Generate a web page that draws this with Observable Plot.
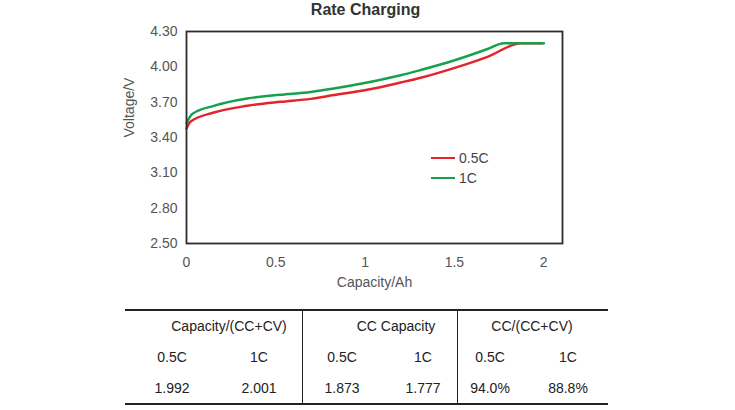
<!DOCTYPE html>
<html>
<head>
<meta charset="utf-8">
<script src="https://cdn.jsdelivr.net/npm/d3@7"></script>
<script src="https://cdn.jsdelivr.net/npm/@observablehq/plot@0.6"></script>
<style>
  html, body { margin: 0; padding: 0; background: #fff; }
  body { width: 735px; height: 410px; overflow: hidden; font-family: "Liberation Sans", Arial, sans-serif; }
  #title { height: 20px; line-height: 20px; text-align: center; font-weight: bold; font-size: 16px; color: #333; padding-right: 4px; }
  #chartwrap { position: relative; width: 735px; height: 280px; }
  #chartwrap svg { display: block; }
  .legend { position: absolute; font-size: 14px; color: #444; }
  .legend .row { position: absolute; white-space: nowrap; height: 16px; line-height: 16px; }
  .legend .sw { display: inline-block; width: 24px; height: 0; border-top: 2.5px solid; vertical-align: middle; margin-right: 4px; position: relative; top: -1px; }
  #table { position: relative; width: 735px; height: 110px; font-size: 14px; color: #222; }
  #table .hl { position: absolute; height: 0; border-top: 2px solid #222; }
  #table .vl { position: absolute; width: 0; border-left: 1.5px solid #222; }
  #table .cell { position: absolute; transform: translate(-50%, -50%); white-space: nowrap; }
</style>
</head>
<body>
<div id="title">Rate Charging</div>
<div id="chartwrap"></div>
<div id="table"></div>
<script>
// ---- Data ----
const seriesNames = ["0.5C", "1C"];
const seriesColors = ["#e3242b", "#17a14c"];

const capacityHalfC = [0, 0.022, 0.153, 0.340, 0.527, 0.695, 0.825, 1.012, 1.199, 1.311, 1.497, 1.685, 1.873, 1.992];
const voltageHalfC  = [3.477, 3.533, 3.612, 3.669, 3.703, 3.728, 3.760, 3.805, 3.867, 3.907, 3.989, 4.085, 4.20, 4.20];

const capacityOneC = [0, 0.032, 0.153, 0.340, 0.527, 0.695, 0.825, 1.012, 1.199, 1.311, 1.497, 1.685, 1.777, 2.001];
const voltageOneC  = [3.522, 3.599, 3.669, 3.731, 3.763, 3.787, 3.816, 3.867, 3.928, 3.973, 4.054, 4.151, 4.20, 4.20];

const xTicks = [0, 0.5, 1, 1.5, 2];
const yTicks = [2.5, 2.8, 3.1, 3.4, 3.7, 4.0, 4.3];

const tableGroups = ["Capacity/(CC+CV)", "CC Capacity", "CC/(CC+CV)"];
const tableRates = ["0.5C", "1C", "0.5C", "1C", "0.5C", "1C"];
const tableValues = ["1.992", "2.001", "1.873", "1.777", "94.0%", "88.8%"];

// ---- Build rows ----
const rows = [];
capacityHalfC.forEach((c, i) => rows.push({series: seriesNames[0], capacity: c, voltage: voltageHalfC[i]}));
capacityOneC.forEach((c, i) => rows.push({series: seriesNames[1], capacity: c, voltage: voltageOneC[i]}));

const font = '"Liberation Sans", Arial, sans-serif';

const chart = Plot.plot({
  width: 735,
  height: 280,
  marginLeft: 186,
  marginRight: 173,
  marginTop: 11,
  marginBottom: 57,
  style: { fontFamily: font, fontSize: "14px", color: "#555", background: "#fff" },
  x: { domain: [0, 2.105], ticks: xTicks, tickFormat: d => String(d), label: null },
  y: { domain: [2.5, 4.3], ticks: yTicks, tickFormat: d3.format(".2f"), label: null },
  color: { domain: seriesNames, range: seriesColors },
  marks: [
    Plot.axisX({ticks: xTicks, tickSize: 0, tickPadding: 14, tickFormat: d => String(d), label: null, fill: "#555"}),
    Plot.axisY({ticks: yTicks, tickSize: 0, tickPadding: 9, tickFormat: d3.format(".2f"), label: null, fill: "#555"}),
    Plot.line(rows, {x: "capacity", y: "voltage", z: "series", stroke: "series", strokeWidth: 2.5, curve: "monotone-x"}),
    Plot.frame({stroke: "#2b2b2b", strokeWidth: 1.8}),
    Plot.text(["Capacity/Ah"], {frameAnchor: "bottom", dy: 43, text: d => d, fill: "#555", fontSize: 14}),
    Plot.text(["Voltage/V"], {frameAnchor: "left", dx: -57, rotate: -90, text: d => d, fill: "#555", fontSize: 14})
  ]
});
document.getElementById("chartwrap").appendChild(chart);

// ---- Legend (overlay) ----
const legend = document.createElement("div");
legend.className = "legend";
legend.style.left = "431px";
legend.style.top = "130px";
seriesNames.forEach((name, i) => {
  const r = document.createElement("div");
  r.className = "row";
  r.style.top = (i * 20) + "px";
  r.innerHTML = `<span class="sw" style="border-color:${seriesColors[i]}"></span>${name}`;
  legend.appendChild(r);
});
document.getElementById("chartwrap").appendChild(legend);

// ---- Table ----
const tbl = document.getElementById("table");
function add(cls, styles, text) {
  const e = document.createElement("div");
  e.className = cls;
  Object.assign(e.style, styles);
  if (text != null) e.textContent = text;
  tbl.appendChild(e);
}
add("hl", {left: "125px", width: "483px", top: "9px"});
add("hl", {left: "125px", width: "483px", top: "103px"});
add("vl", {left: "302px", top: "10px", height: "93px"});
add("vl", {left: "457px", top: "10px", height: "93px"});
const groupCenters = [229, 396, 532];
tableGroups.forEach((g, i) => add("cell", {left: groupCenters[i] + "px", top: "26px"}, g));
const subCenters = [172, 259, 342, 423, 490, 568];
tableRates.forEach((r, i) => add("cell", {left: subCenters[i] + "px", top: "57px"}, r));
tableValues.forEach((v, i) => add("cell", {left: subCenters[i] + "px", top: "88px"}, v));
</script>
</body>
</html>
